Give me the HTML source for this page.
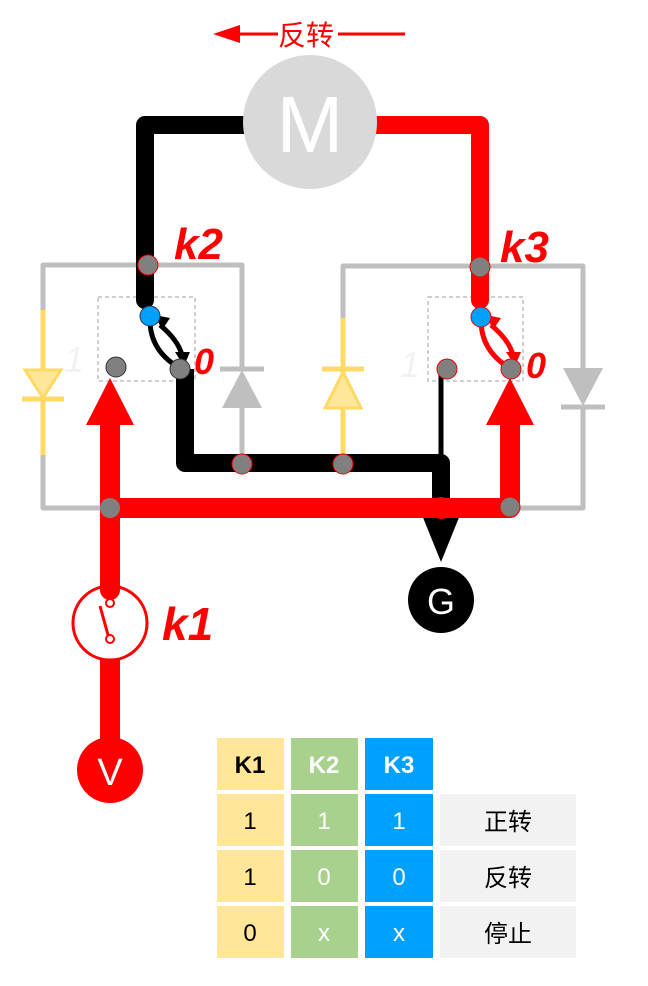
<!DOCTYPE html>
<html><head><meta charset="utf-8"><style>body{margin:0;background:#fff}svg{display:block}</style></head><body>
<svg width="648" height="986" viewBox="0 0 648 986" xmlns="http://www.w3.org/2000/svg" font-family="'Liberation Sans','Noto Sans CJK SC',sans-serif">
<line x1="230" y1="34" x2="278" y2="34" stroke="#f00" stroke-width="3"/>
<polygon points="213,34 240,25 240,43" fill="#f00"/>
<text x="278" y="45" font-size="28" fill="#f00">反转</text>
<line x1="338" y1="34" x2="405" y2="34" stroke="#f00" stroke-width="3"/>
<g fill="none" stroke="#bfbfbf" stroke-width="5" stroke-linejoin="round">
<polyline points="43,310 43,265 242,265 242,370"/>
<polyline points="242,408 242,463"/>
<polyline points="43,455 43,508 110,508"/>
<polyline points="343,318 343,266 583,266 583,370"/>
<polyline points="583,408 583,508 510,508"/>
</g>
<line x1="43" y1="310" x2="43" y2="455" stroke="#ffd966" stroke-width="5"/>
<polygon points="25,370 61,370 43,398" fill="#ffe699" stroke="#ffd966" stroke-width="3"/>
<line x1="22" y1="399" x2="64" y2="399" stroke="#ffd966" stroke-width="5"/>
<line x1="343" y1="318" x2="343" y2="463" stroke="#ffd966" stroke-width="5"/>
<polygon points="325,408 361,408 343,372" fill="#ffe699" stroke="#ffd966" stroke-width="3"/>
<line x1="322" y1="369" x2="364" y2="369" stroke="#ffd966" stroke-width="5"/>
<polygon points="222,408 262,408 242,370" fill="#bfbfbf"/>
<line x1="220" y1="369" x2="264" y2="369" stroke="#bfbfbf" stroke-width="5"/>
<polygon points="563,368 603,368 583,406" fill="#bfbfbf"/>
<line x1="561" y1="407" x2="605" y2="407" stroke="#bfbfbf" stroke-width="5"/>
<rect x="98" y="297" width="97" height="84" fill="none" stroke="#bfbfbf" stroke-width="1.5" stroke-dasharray="4,3"/>
<rect x="428" y="297" width="95" height="84" fill="none" stroke="#bfbfbf" stroke-width="1.5" stroke-dasharray="4,3"/>
<polyline points="245,125 145,125 145,300" fill="none" stroke="#000" stroke-width="18" stroke-linejoin="round" stroke-linecap="round"/>
<polyline points="372,125 480,125 480,300" fill="none" stroke="#f00" stroke-width="18" stroke-linejoin="round" stroke-linecap="round"/>
<circle cx="310" cy="122" r="67" fill="#d9d9d9"/>
<text x="310" y="152" font-size="80" fill="#fff" text-anchor="middle">M</text>
<polyline points="185,369 185,463 441,463 441,505" fill="none" stroke="#000" stroke-width="18" stroke-linejoin="round"/>
<line x1="441" y1="369" x2="441" y2="463" stroke="#000" stroke-width="5"/>
<polygon points="422,515 460,515 441,562" fill="#000"/>
<circle cx="441" cy="600" r="33" fill="#000"/>
<text x="441" y="614" font-size="36" fill="#fff" text-anchor="middle">G</text>
<polyline points="110,590 110,508 510,508 510,420" fill="none" stroke="#f00" stroke-width="20" stroke-linejoin="round"/>
<line x1="110" y1="508" x2="110" y2="420" stroke="#f00" stroke-width="20"/>
<polygon points="86,425 134,425 110,378" fill="#f00"/>
<polygon points="486,425 534,425 510,378" fill="#f00"/>
<circle cx="441" cy="508" r="11" fill="#f00"/>
<line x1="110" y1="655" x2="110" y2="750" stroke="#f00" stroke-width="20"/>
<circle cx="110" cy="623" r="37" fill="#fff" stroke="#f00" stroke-width="3"/>
<line x1="110" y1="590" x2="110" y2="588" stroke="#f00" stroke-width="20" stroke-linecap="round"/>
<line x1="100" y1="606" x2="108" y2="635" stroke="#f00" stroke-width="3"/>
<circle cx="110" cy="603" r="4" fill="none" stroke="#f00" stroke-width="2"/>
<circle cx="110" cy="639" r="4" fill="none" stroke="#f00" stroke-width="2"/>
<text x="162" y="640" font-size="46" font-weight="bold" font-style="italic" fill="#f00">k1</text>
<circle cx="110" cy="770" r="33" fill="#f00"/>
<text x="110" y="785" font-size="38" fill="#fff" text-anchor="middle">V</text>
<path d="M150,320 Q150,350 178,367" fill="none" stroke="#000" stroke-width="5"/>
<path d="M160,325 Q178,340 182,355" fill="none" stroke="#000" stroke-width="5"/>
<polygon points="155,315 170,318 162,330" fill="#000"/>
<polygon points="175,352 190,352 184,366" fill="#000"/>
<path d="M481,320 Q481,350 508,367" fill="none" stroke="#f00" stroke-width="5"/>
<path d="M491,325 Q509,340 513,355" fill="none" stroke="#f00" stroke-width="5"/>
<polygon points="486,315 501,318 493,330" fill="#f00"/>
<polygon points="506,352 521,352 515,366" fill="#f00"/>
<g fill="#808080" stroke="#e00" stroke-width="1">
<circle cx="148" cy="265" r="10"/><circle cx="480" cy="267" r="10"/>
<circle cx="242" cy="464" r="10"/><circle cx="343" cy="464" r="10"/>
<circle cx="110" cy="508" r="10" stroke="none"/><circle cx="510" cy="507" r="10"/>
<circle cx="180" cy="369" r="10" stroke="#333"/><circle cx="116" cy="367" r="10" stroke="#333"/>
<circle cx="447" cy="369" r="10"/><circle cx="511" cy="369" r="10"/>
</g>
<circle cx="150" cy="316" r="10" fill="#00a0ff" stroke="#333"/>
<circle cx="481" cy="317" r="10" fill="#00a0ff" stroke="#e00"/>
<text x="174" y="259" font-size="44" font-weight="bold" font-style="italic" fill="#f00">k2</text>
<text x="500" y="262" font-size="44" font-weight="bold" font-style="italic" fill="#f00">k3</text>
<text x="194" y="374" font-size="36" font-weight="bold" font-style="italic" fill="#f00">0</text>
<text x="526" y="378" font-size="36" font-weight="bold" font-style="italic" fill="#f00">0</text>
<text x="64" y="372" font-size="36" font-style="italic" fill="#f2f2f2">1</text>
<text x="400" y="377" font-size="36" font-style="italic" fill="#f2f2f2">1</text>
<g font-size="24" text-anchor="middle">
<rect x="217" y="738" width="67" height="52" fill="#ffe699"/><rect x="291" y="738" width="67" height="52" fill="#a9d18e"/><rect x="365" y="738" width="68" height="52" fill="#00a0ff"/>
<text x="250" y="773" font-weight="bold" fill="#000">K1</text><text x="324" y="773" font-weight="bold" fill="#fff">K2</text><text x="399" y="773" font-weight="bold" fill="#fff">K3</text>
<rect x="217" y="794" width="67" height="52" fill="#ffe699"/><rect x="291" y="794" width="67" height="52" fill="#a9d18e"/><rect x="365" y="794" width="68" height="52" fill="#00a0ff"/><rect x="440" y="794" width="136" height="52" fill="#f2f2f2"/>
<text x="250" y="829">1</text><text x="324" y="829" fill="#fff">1</text><text x="399" y="829" fill="#fff">1</text><text x="508" y="830">正转</text>
<rect x="217" y="850" width="67" height="52" fill="#ffe699"/><rect x="291" y="850" width="67" height="52" fill="#a9d18e"/><rect x="365" y="850" width="68" height="52" fill="#00a0ff"/><rect x="440" y="850" width="136" height="52" fill="#f2f2f2"/>
<text x="250" y="885">1</text><text x="324" y="885" fill="#fff">0</text><text x="399" y="885" fill="#fff">0</text><text x="508" y="886">反转</text>
<rect x="217" y="906" width="67" height="52" fill="#ffe699"/><rect x="291" y="906" width="67" height="52" fill="#a9d18e"/><rect x="365" y="906" width="68" height="52" fill="#00a0ff"/><rect x="440" y="906" width="136" height="52" fill="#f2f2f2"/>
<text x="250" y="941">0</text><text x="324" y="941" fill="#fff">x</text><text x="399" y="941" fill="#fff">x</text><text x="508" y="942">停止</text>
</g>
</svg>
</body></html>
